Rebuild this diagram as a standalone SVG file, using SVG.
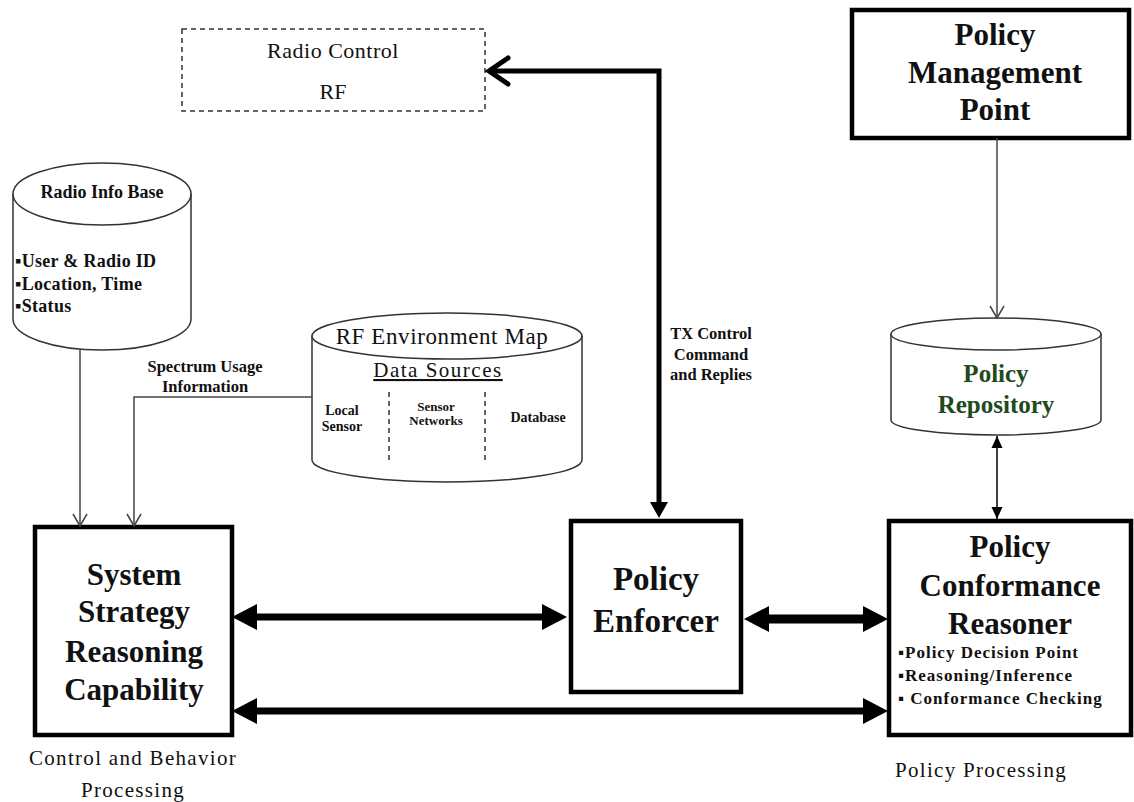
<svg xmlns="http://www.w3.org/2000/svg" width="1134" height="802" viewBox="0 0 1134 802">
<defs>
<style>
text{font-family:"Liberation Serif","Times New Roman",serif;fill:#111;text-anchor:middle}
.b{font-weight:bold}
.l{text-anchor:start}
.box{fill:#fff;stroke:#000;stroke-width:4.5}
.cyl{fill:#fff;stroke:#333;stroke-width:1.5}
.thin{fill:none;stroke:#444;stroke-width:1.5}
.dash{fill:none;stroke:#333;stroke-width:1.5;stroke-dasharray:5 4}
.thick{fill:none;stroke:#000}
.green{fill:#1e4a1e}
</style>
<marker id="bigHead" markerUnits="userSpaceOnUse" markerWidth="26" markerHeight="28" viewBox="0 0 26 28" refX="12" refY="14" orient="auto-start-reverse" overflow="visible"><path d="M0,1 L25,14 L0,27 z" fill="#000"/></marker>
<marker id="medHead" markerUnits="userSpaceOnUse" markerWidth="16" markerHeight="18" viewBox="0 0 16 18" refX="4" refY="9" orient="auto-start-reverse" overflow="visible"><path d="M0,0 L16,9 L0,18 z" fill="#000"/></marker>
<marker id="smallHead" markerUnits="userSpaceOnUse" markerWidth="12" markerHeight="11" viewBox="0 0 12 11" refX="12" refY="5.5" orient="auto-start-reverse" overflow="visible"><path d="M0,0 L12,5.5 L0,11 z" fill="#000"/></marker>
<marker id="chev" markerUnits="userSpaceOnUse" markerWidth="12" markerHeight="14" viewBox="0 0 12 14" refX="12" refY="7" orient="auto" overflow="visible"><path d="M0,0 L12,7 L0,14" fill="none" stroke="#444" stroke-width="1.5"/></marker>
<marker id="thickChev" markerUnits="userSpaceOnUse" markerWidth="20" markerHeight="26" viewBox="0 0 20 26" refX="16" refY="13" orient="auto" overflow="visible"><path d="M0,0 L19,13 L0,26" fill="none" stroke="#000" stroke-width="5" stroke-linecap="round"/></marker>
</defs>
<rect width="1134" height="802" fill="#fff"/>

<g id="radio-control">
<rect class="dash" x="182" y="29" width="303" height="82"/>
<text x="333" y="58" font-size="22" letter-spacing="0.5">Radio Control</text>
<text x="333" y="99" font-size="22">RF</text>
</g>

<g id="radio-info-base">
<path class="cyl" d="M13,194 L13,319 A89,31 0 0 0 191,319 L191,194"/>
<ellipse class="cyl" cx="102" cy="194" rx="89" ry="31"/>
<text class="b" x="102" y="198" font-size="18">Radio Info Base</text>
<text class="b l" x="15" y="267" font-size="18" letter-spacing="0.3">▪User &amp; Radio ID</text>
<text class="b l" x="15" y="290" font-size="18" letter-spacing="0.3">▪Location, Time</text>
<text class="b l" x="15" y="312" font-size="18" letter-spacing="0.3">▪Status</text>
</g>

<g id="rf-environment-map">
<path class="cyl" d="M312,336 L312,460 A135,22 0 0 0 582,460 L582,336"/>
<ellipse class="cyl" cx="447" cy="336" rx="135" ry="23"/>
<text x="442" y="344" font-size="23" letter-spacing="0.6">RF Environment Map</text>
<text x="438" y="377" font-size="21" letter-spacing="1.5" text-decoration="underline">Data Sources</text>
<line class="dash" x1="389" y1="392" x2="389" y2="460"/>
<line class="dash" x1="485" y1="392" x2="485" y2="460"/>
<text class="b" x="342" y="415" font-size="14">Local</text>
<text class="b" x="342" y="431" font-size="14">Sensor</text>
<text class="b" x="436" y="411" font-size="13">Sensor</text>
<text class="b" x="436" y="425" font-size="13">Networks</text>
<text class="b" x="538" y="422" font-size="14">Database</text>
</g>

<g id="policy-management-point">
<rect class="box" x="852" y="10" width="277" height="128"/>
<text class="b" x="995" y="45" font-size="31">Policy</text>
<text class="b" x="995" y="83" font-size="31">Management</text>
<text class="b" x="995" y="120" font-size="31">Point</text>
</g>

<g id="policy-repository">
<path class="cyl" d="M891,334 L891,420 A105,15 0 0 0 1101,420 L1101,334"/>
<ellipse class="cyl" cx="996" cy="334" rx="105" ry="16"/>
<text class="b green" x="996" y="382" font-size="25">Policy</text>
<text class="b green" x="996" y="413" font-size="25">Repository</text>
</g>

<g id="system-strategy">
<rect class="box" x="35" y="527" width="197" height="208"/>
<text class="b" x="134" y="585" font-size="31">System</text>
<text class="b" x="134" y="622" font-size="31">Strategy</text>
<text class="b" x="134" y="662" font-size="31">Reasoning</text>
<text class="b" x="134" y="700" font-size="31">Capability</text>
</g>

<g id="policy-enforcer">
<rect class="box" x="571" y="521" width="170" height="171"/>
<text class="b" x="656" y="590" font-size="33">Policy</text>
<text class="b" x="656" y="632" font-size="33">Enforcer</text>
</g>

<g id="policy-conformance-reasoner">
<rect class="box" x="889" y="521" width="242" height="214"/>
<text class="b" x="1010" y="557" font-size="31">Policy</text>
<text class="b" x="1010" y="596" font-size="31">Conformance</text>
<text class="b" x="1010" y="634" font-size="31">Reasoner</text>
<text class="b l" x="898" y="658" font-size="17" letter-spacing="1">▪Policy Decision Point</text>
<text class="b l" x="898" y="681" font-size="17" letter-spacing="1">▪Reasoning/Inference</text>
<text class="b l" x="898" y="704" font-size="17" letter-spacing="1">▪ Conformance Checking</text>
</g>

<g id="labels">
<text x="133" y="765" font-size="21" letter-spacing="1.3">Control and Behavior</text>
<text x="133" y="797" font-size="21" letter-spacing="1.3">Processing</text>
<text x="981" y="777" font-size="21" letter-spacing="1.3">Policy Processing</text>
<text class="b" x="205" y="372" font-size="16.5">Spectrum Usage</text>
<text class="b" x="205" y="392" font-size="16.5">Information</text>
<text class="b" x="711" y="339" font-size="16.5">TX Control</text>
<text class="b" x="711" y="360" font-size="16.5">Command</text>
<text class="b" x="711" y="380" font-size="16.5">and Replies</text>
</g>

<g id="connectors">
<line class="thin" x1="80" y1="350" x2="80" y2="526" marker-end="url(#chev)"/>
<polyline class="thin" points="312,397 134,397 134,526" marker-end="url(#chev)"/>
<polyline class="thick" stroke-width="5" points="659,506 659,71 492,71" marker-start="url(#medHead)" marker-end="url(#thickChev)"/>
<line class="thin" x1="997" y1="138" x2="997" y2="318" marker-end="url(#chev)"/>
<line class="thick" stroke-width="1.5" x1="997" y1="436" x2="997" y2="519" marker-start="url(#smallHead)" marker-end="url(#smallHead)"/>
<line class="thick" stroke-width="7" x1="245" y1="617" x2="554" y2="617" marker-start="url(#bigHead)" marker-end="url(#bigHead)"/>
<line class="thick" stroke-width="9" x1="757" y1="619" x2="875" y2="619" marker-start="url(#bigHead)" marker-end="url(#bigHead)"/>
<line class="thick" stroke-width="7" x1="245" y1="711" x2="875" y2="711" marker-start="url(#bigHead)" marker-end="url(#bigHead)"/>
</g>
</svg>
